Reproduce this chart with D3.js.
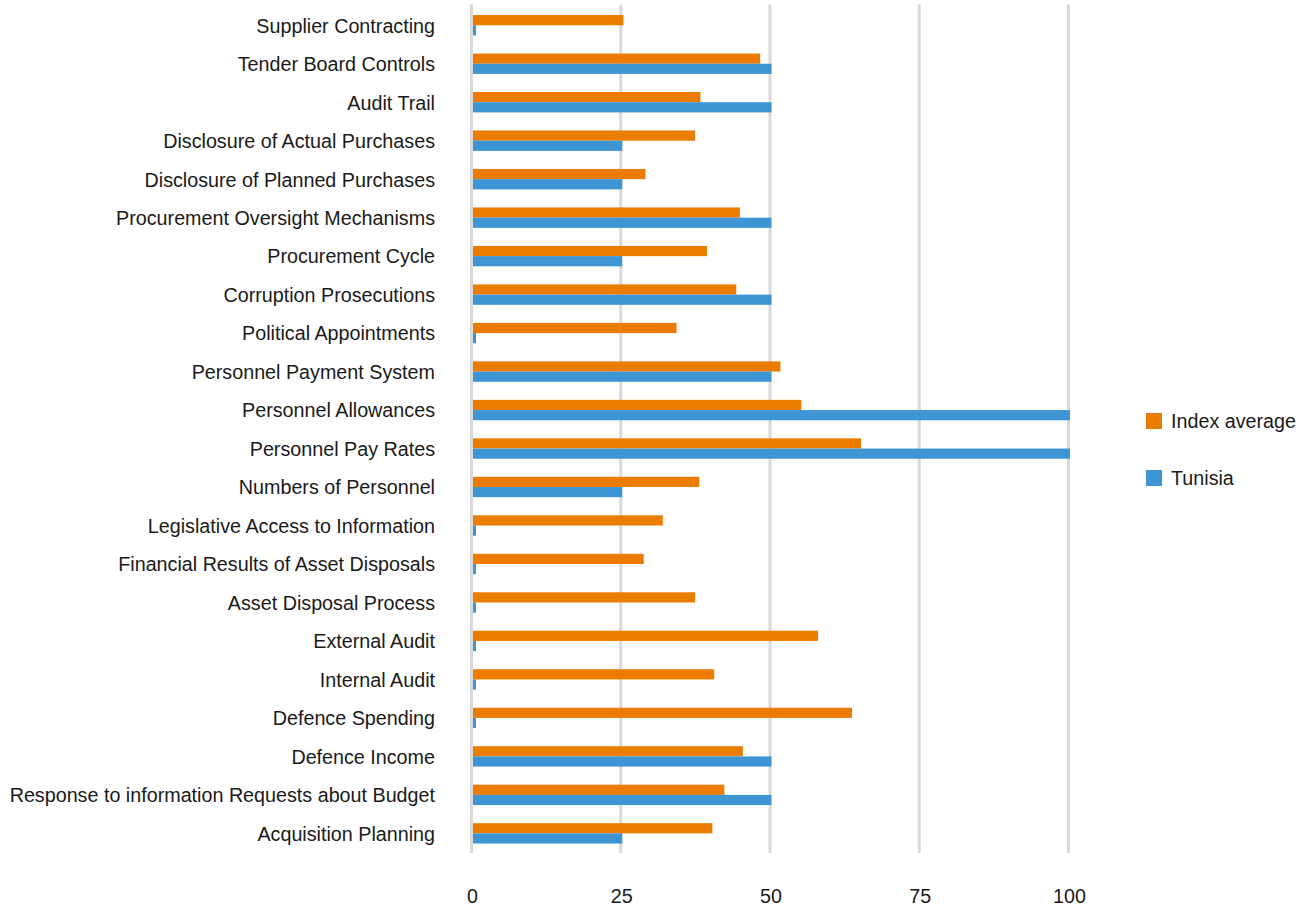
<!DOCTYPE html>
<html>
<head>
<meta charset="utf-8">
<script src="https://cdn.jsdelivr.net/npm/d3@7"></script>
<style>
  html, body { margin: 0; padding: 0; background: #ffffff; }
  svg text { font-family: "Liberation Sans", Arial, sans-serif; fill: #1a1a1a; }
</style>
</head>
<body>
<svg id="chart" width="1309" height="908"></svg>
<script>
const categories = [
  "Supplier Contracting",
  "Tender Board Controls",
  "Audit Trail",
  "Disclosure of Actual Purchases",
  "Disclosure of Planned Purchases",
  "Procurement Oversight Mechanisms",
  "Procurement Cycle",
  "Corruption Prosecutions",
  "Political Appointments",
  "Personnel Payment System",
  "Personnel Allowances",
  "Personnel Pay Rates",
  "Numbers of Personnel",
  "Legislative Access to Information",
  "Financial Results of Asset Disposals",
  "Asset Disposal Process",
  "External Audit",
  "Internal Audit",
  "Defence Spending",
  "Defence Income",
  "Response to information Requests about Budget",
  "Acquisition Planning"
];
const indexAverage = [25.2, 48.1, 38.1, 37.2, 28.9, 44.7, 39.2, 44.1, 34.1, 51.5, 55.0, 65.0, 37.9, 31.8, 28.6, 37.2, 57.8, 40.4, 63.5, 45.2, 42.1, 40.1];
const tunisia      = [0.5, 50, 50, 25, 25, 50, 25, 50, 0.5, 50, 100, 100, 25, 0.5, 0.5, 0.5, 0.5, 0.5, 0.5, 50, 50, 25];
const seriesNames = ["Index average", "Tunisia"];
const seriesColors = ["#EC7C00", "#3D96D3"];
const tickValues = [0, 25, 50, 75, 100];

const svg = d3.select("#chart");
const pLeft = 472, pRight = 1069, gridTop = 4.5, gridBottom = 853;
const bandTop = 6, bandBottom = 852.6;
const fontSize = 21, squeeze = 0.94;

const x = d3.scaleLinear().domain([0, 100]).range([pLeft, pRight]);
const y0 = d3.scaleBand().domain(categories).range([bandTop, bandBottom]).paddingInner(0.47).paddingOuter(0.235);
const y1 = d3.scaleBand().domain(seriesNames).range([0, y0.bandwidth()]);

// gridlines
svg.append("g").selectAll("line").data(tickValues).join("line")
  .attr("x1", d => x(d) - 0.5).attr("x2", d => x(d) - 0.5)
  .attr("y1", gridTop).attr("y2", gridBottom)
  .attr("stroke", "#d9d9d9").attr("stroke-width", 3);

// bars
const rows = categories.map((c, i) => ({ cat: c, vals: [indexAverage[i], tunisia[i]] }));
const g = svg.append("g").selectAll("g").data(rows).join("g")
  .attr("transform", d => `translate(0,${y0(d.cat)})`);
g.selectAll("rect").data(d => d.vals.map((v, j) => ({ v, s: seriesNames[j], c: seriesColors[j] }))).join("rect")
  .attr("x", x(0) + 1)
  .attr("y", d => y1(d.s))
  .attr("width", d => Math.max(0, x(d.v) - x(0)))
  .attr("height", y1.bandwidth())
  .attr("fill", d => d.c);

// category labels (slightly condensed)
svg.append("g").selectAll("text").data(categories).join("text")
  .attr("transform", d => `translate(435,${y0(d) + y0.bandwidth() / 2}) scale(${squeeze},1)`)
  .attr("dy", "0.35em")
  .attr("text-anchor", "end")
  .attr("font-size", fontSize)
  .text(d => d);

// x axis tick labels
const xAxis = d3.axisBottom(x).tickValues(tickValues).tickSize(0).tickPadding(0);
const ax = svg.append("g").attr("transform", `translate(0,903)`).call(xAxis);
ax.select(".domain").remove();
ax.selectAll(".tick text")
  .attr("font-size", fontSize).attr("fill", "#1a1a1a").attr("dy", 0).attr("y", 0)
  .attr("transform", `scale(${squeeze},1)`)
  .style("font-family", '"Liberation Sans", Arial, sans-serif');

// legend
const legendY = [421, 478];
const lg = svg.append("g").selectAll("g").data(seriesNames).join("g")
  .attr("transform", (d, i) => `translate(1146,${legendY[i]})`);
lg.append("rect").attr("x", 0).attr("y", -8).attr("width", 16).attr("height", 16)
  .attr("fill", (d, i) => seriesColors[i]);
lg.append("text").attr("transform", `translate(25,0) scale(${squeeze},1)`)
  .attr("dy", "0.35em").attr("font-size", fontSize).text(d => d);
</script>
</body>
</html>
